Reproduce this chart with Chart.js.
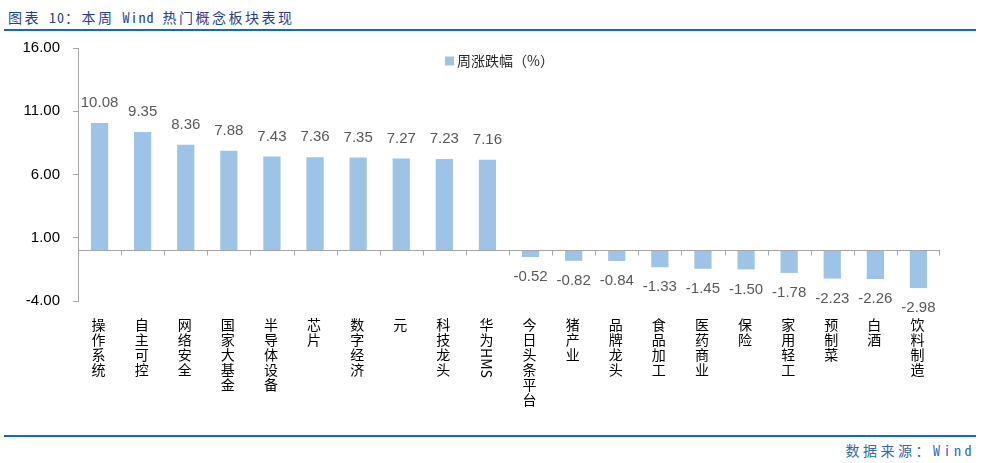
<!DOCTYPE html>
<html>
<head>
<meta charset="utf-8">
<script src="https://cdn.jsdelivr.net/npm/chart.js@4.4.1/dist/chart.umd.min.js"></script>
<style>
  html, body { margin: 0; padding: 0; background: #fff; }
  body { width: 981px; height: 463px; position: relative; overflow: hidden; }
  #title { position: absolute; left: 8px; top: 7px; font: 14px "Noto Sans Mono CJK SC", "Noto Sans CJK SC", sans-serif; letter-spacing: 2.5px; color: #1f3f8f; white-space: nowrap; line-height: 20px; }
  #title .lat { letter-spacing: 1px; }
  .rule { position: absolute; left: 4px; width: 972px; height: 2px; background: #0b6fc0; z-index: 2; }
  #src { position: absolute; right: 6px; top: 440px; font: 14px "Noto Sans Mono CJK SC", "Noto Sans CJK SC", sans-serif; letter-spacing: 3.5px; color: #2a6ab8; white-space: nowrap; line-height: 20px; }
  #wrap { position: absolute; left: 0; top: 26px; width: 981px; height: 395px; z-index: 1; }
</style>
</head>
<body>
<div id="title">图表<span class="lat"> 10</span>：本周<span class="lat"> Wind </span>热门概念板块表现</div>
<div class="rule" style="top:29px"></div>
<div id="wrap"><canvas id="c" width="981" height="395"></canvas></div>
<div class="rule" style="top:435px"></div>
<div id="src">数据来源：Wind</div>
<script>
const categories = ['操作系统','自主可控','网络安全','国家大基金','半导体设备','芯片','数字经济','元','科技龙头','华为HMS','今日头条平台','猪产业','品牌龙头','食品加工','医药商业','保险','家用轻工','预制菜','白酒','饮料制造'];
const weeklyChange = [10.08, 9.35, 8.36, 7.88, 7.43, 7.36, 7.35, 7.27, 7.23, 7.16, -0.52, -0.82, -0.84, -1.33, -1.45, -1.50, -1.78, -2.23, -2.26, -2.98];
const yTicks = [-4, 1, 6, 11, 16];
const seriesName = '周涨跌幅（%）';

const BAR_COLOR = '#9dc3e6';
const AXIS_COLOR = '#a6a6a6';

const decorPlugin = {
  id: 'decor',
  afterDatasetsDraw(chart) {
    const ctx = chart.ctx;
    const area = chart.chartArea;
    const xs = chart.scales.x;
    const ys = chart.scales.y;
    const n = categories.length;
    const step = (area.right - area.left) / n;

    // zero line with category boundary ticks
    const y0 = Math.round(ys.getPixelForValue(0)) + 0.5;
    ctx.save();
    ctx.strokeStyle = AXIS_COLOR;
    ctx.lineWidth = 1;
    ctx.beginPath();
    ctx.moveTo(area.left, y0);
    ctx.lineTo(area.right, y0);
    for (let i = 0; i <= n; i++) {
      const x = Math.round(xs.getPixelForValue(i) - step / 2) + 0.5;
      const xx = i === n ? Math.round(xs.getPixelForValue(n - 1) + step / 2) - 0.5 : x;
      ctx.moveTo(xx, y0);
      ctx.lineTo(xx, y0 + 5);
    }
    ctx.stroke();
    ctx.restore();

    // data labels
    const meta = chart.getDatasetMeta(0);
    ctx.save();
    ctx.font = '15px "Liberation Sans", Arial, sans-serif';
    ctx.fillStyle = '#595959';
    ctx.textAlign = 'center';
    ctx.textBaseline = 'middle';
    meta.data.forEach((bar, i) => {
      const v = weeklyChange[i];
      const y = v >= 0 ? bar.y - 20 : bar.y + 20;
      ctx.fillText(v.toFixed(2), bar.x, y);
    });
    ctx.restore();

    // category labels, vertical text
    ctx.save();
    ctx.font = '14px "Noto Sans CJK SC", sans-serif';
    ctx.fillStyle = '#000';
    ctx.textBaseline = 'middle';
    categories.forEach((label, i) => {
      const cx = xs.getPixelForValue(i) - 1;
      let y = area.bottom + 17;
      const chars = Array.from(label);
      let k = 0;
      while (k < chars.length) {
        const ch = chars[k];
        if (/[A-Za-z0-9]/.test(ch)) {
          let run = '';
          while (k < chars.length && /[A-Za-z0-9]/.test(chars[k])) { run += chars[k]; k++; }
          const w = ctx.measureText(run).width;
          ctx.save();
          ctx.translate(cx, y);
          ctx.rotate(Math.PI / 2);
          ctx.textAlign = 'left';
          ctx.fillText(run, 0, 0);
          ctx.restore();
          y += w;
        } else {
          ctx.textAlign = 'center';
          ctx.fillText(ch, cx, y + 7);
          y += 15;
          k++;
        }
      }
    });
    ctx.restore();

    // legend
    ctx.save();
    const lx = (area.left + area.right) / 2 - 64;
    const ly = area.top + 13;
    ctx.fillStyle = BAR_COLOR;
    ctx.fillRect(lx, ly - 4.5, 9, 9);
    ctx.font = '14px "Noto Sans CJK SC", sans-serif';
    ctx.fillStyle = '#262626';
    ctx.textAlign = 'left';
    ctx.textBaseline = 'middle';
    ctx.fillText(seriesName, lx + 12, ly);
    ctx.restore();
  }
};

new Chart(document.getElementById('c'), {
  type: 'bar',
  data: {
    labels: categories,
    datasets: [{
      label: seriesName,
      data: weeklyChange,
      backgroundColor: BAR_COLOR,
      borderWidth: 0,
      barPercentage: 0.4,
      categoryPercentage: 1.0
    }]
  },
  options: {
    responsive: false,
    animation: false,
    devicePixelRatio: 1,
    layout: { padding: { top: 0, right: 41, bottom: 120, left: 0 } },
    plugins: { legend: { display: false }, tooltip: { enabled: false }, title: { display: false } },
    scales: {
      x: { display: false, offset: true, grid: { display: false } },
      y: {
        min: -4, max: 16,
        afterBuildTicks(scale) { scale.ticks = yTicks.map(v => ({ value: v })); },
        afterFit(scale) { scale.width = 78; },
        ticks: {
          padding: 13,
          color: '#000',
          font: { family: '"Liberation Sans Narrow", "Liberation Sans", Arial', size: 15 },
          callback: (v) => Number(v).toFixed(2)
        },
        grid: { drawOnChartArea: false, drawTicks: true, tickLength: 5, color: AXIS_COLOR },
        border: { display: true, color: AXIS_COLOR }
      }
    }
  },
  plugins: [decorPlugin]
});
</script>
</body>
</html>
